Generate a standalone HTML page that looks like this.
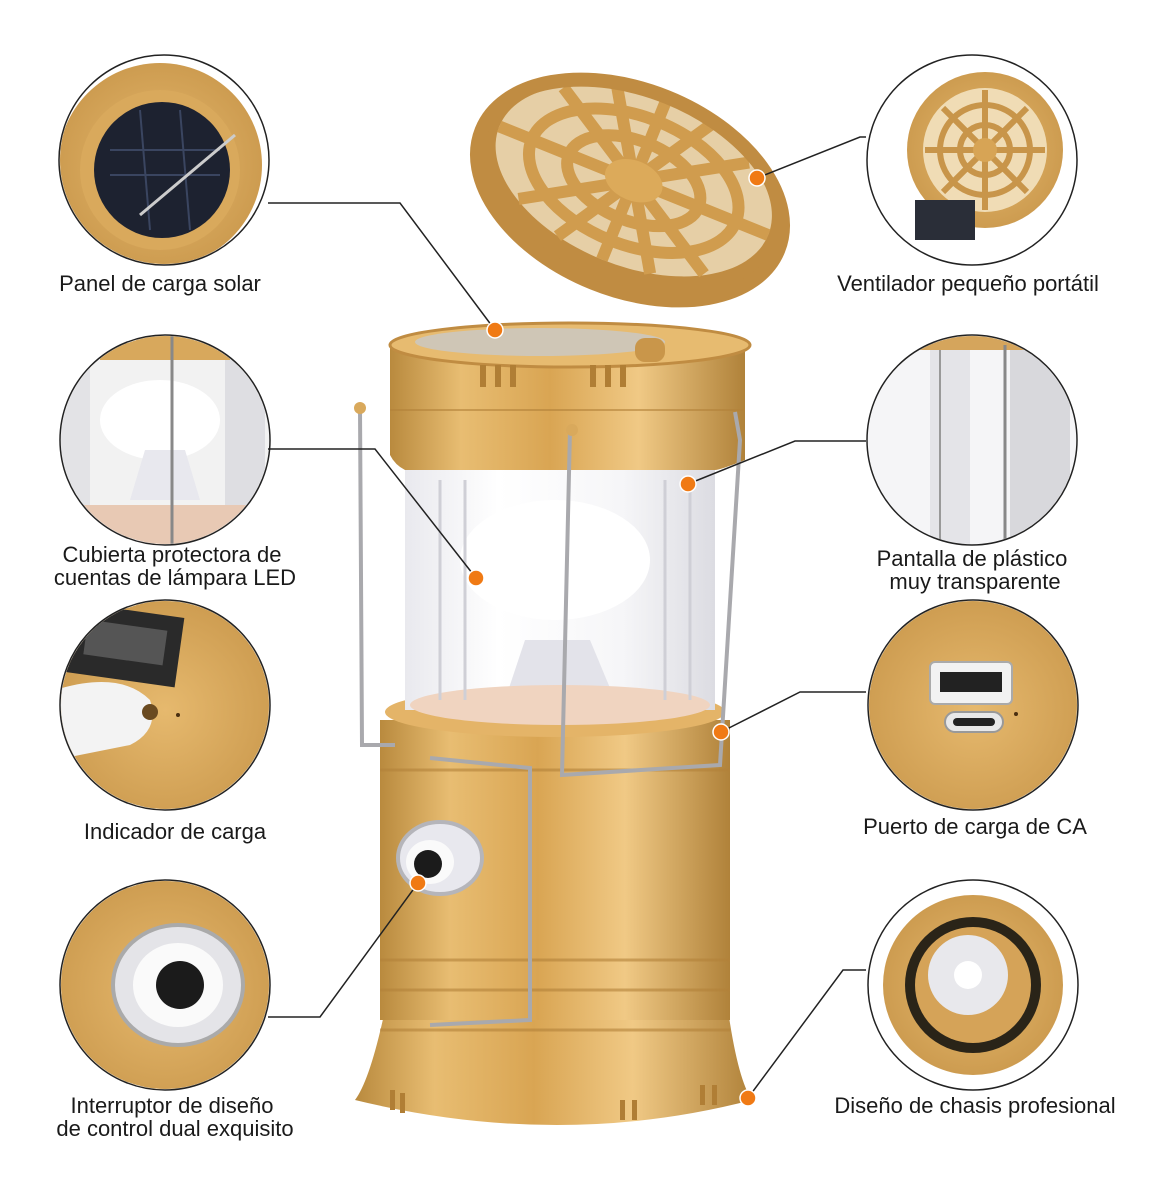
<!DOCTYPE html>
<html><head><meta charset="utf-8"><style>
html,body{margin:0;padding:0;background:#fff;}
svg{display:block;}
text{font-family:"Liberation Sans",sans-serif;font-size:22px;fill:#1a1a1a;}
</style></head><body>
<svg width="1170" height="1200" viewBox="0 0 1170 1200" xmlns="http://www.w3.org/2000/svg">
<defs>
<linearGradient id="gold" x1="0" x2="1" y1="0" y2="0">
<stop offset="0" stop-color="#b98a3e"/><stop offset="0.2" stop-color="#e8bd72"/><stop offset="0.45" stop-color="#d9a553"/><stop offset="0.7" stop-color="#f0c985"/><stop offset="1" stop-color="#b0823a"/>
</linearGradient>
<linearGradient id="glass" x1="0" x2="1">
<stop offset="0" stop-color="#e9e9ee"/><stop offset="0.3" stop-color="#ffffff"/><stop offset="0.7" stop-color="#f6f6f8"/><stop offset="1" stop-color="#dcdce2"/>
</linearGradient>
<radialGradient id="cg" cx="0.5" cy="0.5" r="0.6"><stop offset="0" stop-color="#e6b96e"/><stop offset="1" stop-color="#c8964a"/></radialGradient>
<clipPath id="c1"><circle cx="164" cy="160" r="104"/></clipPath>
<clipPath id="c2"><circle cx="165" cy="440" r="104"/></clipPath>
<clipPath id="c3"><circle cx="165" cy="705" r="104"/></clipPath>
<clipPath id="c4"><circle cx="165" cy="985" r="104"/></clipPath>
<clipPath id="r1"><circle cx="972" cy="160" r="104"/></clipPath>
<clipPath id="r2"><circle cx="972" cy="440" r="104"/></clipPath>
<clipPath id="r3"><circle cx="973" cy="705" r="104"/></clipPath>
<clipPath id="r4"><circle cx="973" cy="985" r="104"/></clipPath>
</defs>

<g clip-path="url(#c1)"><rect x="50" y="50" width="230" height="230" fill="#fff"/>
<circle cx="160" cy="165" r="102" fill="url(#cg)"/><circle cx="160" cy="170" r="80" fill="#d9a95c"/>
<circle cx="162" cy="170" r="68" fill="#1d2230"/><path d="M110 150 L220 150 M110 175 L220 175 M140 110 L150 230 M180 110 L190 230" stroke="#3a4560" stroke-width="2"/>
<line x1="140" y1="215" x2="235" y2="135" stroke="#ccc" stroke-width="3"/></g>
<circle cx="164" cy="160" r="105" fill="none" stroke="#222" stroke-width="1.5"/>

<g clip-path="url(#c2)"><rect x="50" y="330" width="230" height="230" fill="#f2f2f2"/>
<rect x="60" y="330" width="30" height="230" fill="#e3e3e6"/><rect x="225" y="330" width="40" height="230" fill="#dedee2"/>
<rect x="100" y="330" width="130" height="30" fill="#d8a85c"/>
<ellipse cx="160" cy="420" rx="60" ry="40" fill="#fff"/><path d="M130 500 L145 450 L185 450 L200 500 Z" fill="#e8e8ee"/>
<rect x="80" y="505" width="170" height="40" fill="#e8c9b4"/><line x1="172" y1="330" x2="172" y2="550" stroke="#888" stroke-width="3"/></g>
<circle cx="165" cy="440" r="105" fill="none" stroke="#222" stroke-width="1.5"/>

<g clip-path="url(#c3)"><rect x="50" y="595" width="230" height="230" fill="url(#cg)"/>
<rect x="70" y="610" width="110" height="70" fill="#2a2a2a" transform="rotate(8 125 645)"/><rect x="85" y="625" width="80" height="35" fill="#555" transform="rotate(8 125 645)"/>
<path d="M55 690 Q120 670 150 700 Q160 730 130 745 L55 760 Z" fill="#f3f3f3"/><circle cx="150" cy="712" r="8" fill="#6a4a20"/><circle cx="178" cy="715" r="2" fill="#4a2f10"/></g>
<circle cx="165" cy="705" r="105" fill="none" stroke="#222" stroke-width="1.5"/>

<g clip-path="url(#c4)"><rect x="50" y="875" width="230" height="230" fill="url(#cg)"/>
<ellipse cx="178" cy="985" rx="65" ry="60" fill="#e4e4e8" stroke="#aaa" stroke-width="4"/><ellipse cx="178" cy="985" rx="45" ry="42" fill="#fafafa"/>
<circle cx="180" cy="985" r="24" fill="#1b1b1b"/></g>
<circle cx="165" cy="985" r="105" fill="none" stroke="#222" stroke-width="1.5"/>

<g clip-path="url(#r1)"><rect x="860" y="50" width="230" height="230" fill="#fff"/>
<circle cx="985" cy="150" r="78" fill="url(#cg)"/><circle cx="985" cy="150" r="62" fill="#f0dcb5"/>
<g stroke="#c8954a" stroke-width="6" fill="none"><circle cx="985" cy="150" r="45"/><circle cx="985" cy="150" r="25"/>
<path d="M985 90 V210 M925 150 H1045 M943 108 L1027 192 M1027 108 L943 192"/></g>
<circle cx="985" cy="150" r="12" fill="#d7a455"/><rect x="915" y="200" width="60" height="40" fill="#2a2e38"/></g>
<circle cx="972" cy="160" r="105" fill="none" stroke="#222" stroke-width="1.5"/>

<g clip-path="url(#r2)"><rect x="860" y="330" width="230" height="230" fill="#f5f5f7"/>
<rect x="930" y="330" width="40" height="230" fill="#e4e4e8"/><rect x="1010" y="330" width="60" height="230" fill="#d8d8dc"/>
<rect x="860" y="330" width="230" height="20" fill="#d5a55c"/>
<line x1="940" y1="350" x2="940" y2="540" stroke="#999" stroke-width="2"/><line x1="1005" y1="345" x2="1005" y2="545" stroke="#888" stroke-width="3"/></g>
<circle cx="972" cy="440" r="105" fill="none" stroke="#222" stroke-width="1.5"/>

<g clip-path="url(#r3)"><rect x="860" y="595" width="230" height="230" fill="url(#cg)"/>
<rect x="930" y="662" width="82" height="42" rx="5" fill="#f2f2f2" stroke="#aaa" stroke-width="2"/><rect x="940" y="672" width="62" height="20" fill="#222"/>
<rect x="945" y="712" width="58" height="20" rx="10" fill="#e8e8e8" stroke="#999" stroke-width="2"/><rect x="953" y="718" width="42" height="8" rx="4" fill="#222"/>
<circle cx="1016" cy="714" r="2" fill="#4a2f10"/></g>
<circle cx="973" cy="705" r="105" fill="none" stroke="#222" stroke-width="1.5"/>

<g clip-path="url(#r4)"><rect x="860" y="875" width="230" height="230" fill="#fff"/>
<circle cx="973" cy="985" r="90" fill="url(#cg)"/><circle cx="973" cy="985" r="68" fill="#2a2418"/><circle cx="973" cy="985" r="58" fill="#d5a358"/>
<circle cx="968" cy="975" r="40" fill="#e8e8ec"/><circle cx="968" cy="975" r="14" fill="#fff"/></g>
<circle cx="973" cy="985" r="105" fill="none" stroke="#222" stroke-width="1.5"/>

<path d="M385 1010 Q370 1080 355 1100 Q560 1150 752 1100 Q738 1080 728 1010 Z" fill="url(#gold)"/>
<rect x="380" y="720" width="350" height="300" fill="url(#gold)"/>
<g stroke="#b3823a" stroke-width="3" opacity="0.6"><line x1="380" y1="770" x2="730" y2="770"/><line x1="380" y1="960" x2="730" y2="960"/><line x1="380" y1="990" x2="730" y2="990"/><line x1="380" y1="1030" x2="730" y2="1030"/></g>
<ellipse cx="555" cy="712" rx="170" ry="25" fill="#e4b468"/>
<rect x="405" y="470" width="310" height="240" fill="url(#glass)"/>
<ellipse cx="555" cy="560" rx="95" ry="60" fill="#fff"/>
<path d="M505 700 L525 640 L590 640 L615 700 Z" fill="#e3e3ea"/>
<ellipse cx="560" cy="705" rx="150" ry="20" fill="#f0d4c0"/>
<g stroke="#cfcfd6" stroke-width="3"><line x1="440" y1="480" x2="440" y2="700"/><line x1="465" y1="480" x2="465" y2="700"/><line x1="665" y1="480" x2="665" y2="700"/><line x1="690" y1="480" x2="690" y2="700"/></g>
<path d="M390 345 L745 345 L745 460 Q720 470 715 470 L405 470 Q395 465 390 455 Z" fill="url(#gold)"/>
<ellipse cx="570" cy="345" rx="180" ry="22" fill="#e7bb70" stroke="#c08c42" stroke-width="3"/><ellipse cx="540" cy="342" rx="125" ry="14" fill="#cfc6b6"/>
<g fill="#b07e35"><rect x="480" y="365" width="6" height="22"/><rect x="495" y="365" width="6" height="22"/><rect x="510" y="365" width="6" height="22"/><rect x="590" y="365" width="6" height="22"/><rect x="605" y="365" width="6" height="22"/><rect x="620" y="365" width="6" height="22"/></g>
<line x1="390" y1="410" x2="745" y2="410" stroke="#b3823a" stroke-width="2" opacity="0.6"/>
<rect x="635" y="338" width="30" height="24" rx="10" fill="#c9964a"/>
<g transform="rotate(22 630 190)">
<ellipse cx="630" cy="190" rx="160" ry="100" fill="#c08c42"/>
<ellipse cx="630" cy="180" rx="145" ry="85" fill="#e6cfa6"/>
<g stroke="#d09c4e" stroke-width="12" fill="none"><ellipse cx="630" cy="180" rx="110" ry="64"/><ellipse cx="630" cy="180" rx="70" ry="40"/>
<path d="M630 95 V265 M485 180 H775 M530 120 L730 240 M730 120 L530 240 M580 100 L680 260 M680 100 L580 260"/></g>
<ellipse cx="630" cy="180" rx="30" ry="20" fill="#dcaa5a"/>
<ellipse cx="630" cy="190" rx="160" ry="100" fill="none" stroke="#c08c42" stroke-width="14"/>
</g>
<g stroke="#a9a9ad" stroke-width="4" fill="none">
<path d="M360 408 L362 745 L395 745"/><path d="M570 430 L562 775 L720 765 L740 440 L735 412"/>
<path d="M430 758 L530 768 L530 1020 L430 1025"/>
</g>
<circle cx="360" cy="408" r="6" fill="#d9a95c"/><circle cx="572" cy="430" r="6" fill="#d9a95c"/>
<ellipse cx="440" cy="858" rx="42" ry="36" fill="#e8e8ee" stroke="#b5b5ba" stroke-width="4"/>
<ellipse cx="430" cy="862" rx="24" ry="22" fill="#fafafa"/><circle cx="428" cy="864" r="14" fill="#1b1b1b"/>
<g fill="#b07e35"><rect x="390" y="1090" width="5" height="20"/><rect x="400" y="1093" width="5" height="20"/><rect x="620" y="1100" width="5" height="20"/><rect x="632" y="1100" width="5" height="20"/><rect x="700" y="1085" width="5" height="20"/><rect x="712" y="1085" width="5" height="20"/></g>

<g stroke="#222" stroke-width="1.5" fill="none">
<polyline points="268,203 400,203 495,330"/>
<polyline points="268,449 375,449 476,578"/>
<polyline points="268,1017 320,1017 418,883"/>
<polyline points="866,137 860,137 757,178"/>
<polyline points="866,441 795,441 688,484"/>
<polyline points="866,692 800,692 721,732"/>
<polyline points="866,970 843,970 748,1098"/>
</g>
<g fill="#f07a14" stroke="#fff" stroke-width="1.5">
<circle cx="495" cy="330" r="8"/><circle cx="476" cy="578" r="8"/><circle cx="418" cy="883" r="8"/>
<circle cx="757" cy="178" r="8"/><circle cx="688" cy="484" r="8"/><circle cx="721" cy="732" r="8"/><circle cx="748" cy="1098" r="8"/>
</g>

<g text-anchor="middle">
<text x="160" y="291">Panel de carga solar</text>
<text x="172" y="562">Cubierta protectora de</text>
<text x="175" y="585">cuentas de lámpara LED</text>
<text x="175" y="839">Indicador de carga</text>
<text x="172" y="1113">Interruptor de diseño</text>
<text x="175" y="1136">de control dual exquisito</text>
<text x="968" y="291">Ventilador pequeño portátil</text>
<text x="972" y="566">Pantalla de plástico</text>
<text x="975" y="589">muy transparente</text>
<text x="975" y="834">Puerto de carga de CA</text>
<text x="975" y="1113">Diseño de chasis profesional</text>
</g>
</svg>
</body></html>
